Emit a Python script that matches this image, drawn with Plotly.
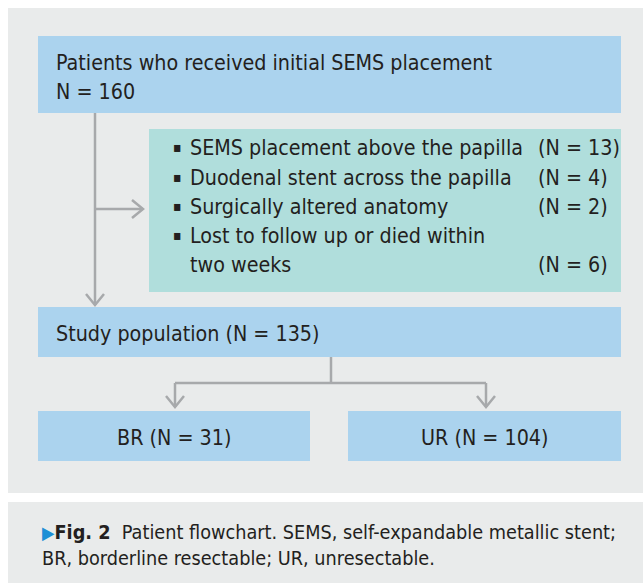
import plotly.graph_objects as go

# ---- data ----
initial_label = "Patients who received initial SEMS placement"
initial_n = 160
excluded_reasons = ["SEMS placement above the papilla",
                    "Duodenal stent across the papilla",
                    "Surgically altered anatomy",
                    "Lost to follow up or died within|two weeks"]
excluded_counts = [13, 4, 2, 6]
study_label = "Study population"
study_n = 135
group_labels = ["BR", "UR"]
group_counts = [31, 104]
caption_fig = "Fig. 2"
caption_text = "Patient flowchart. SEMS, self-expandable metallic stent;<br>BR, borderline resectable; UR, unresectable."

# ---- style ----
W, H = 643, 583
PANEL = "#e9ebeb"
BLUE = "#abd3ee"
GREEN = "#b0dedc"
ARROW = "#a7a9ab"
TXT = "#231f20"
FONT = "DejaVu Sans Condensed, Liberation Sans Narrow, sans-serif"
FS = 21.3

fig = go.Figure()
shapes = []
ann = []

def rect(x0, y0, x1, y1, color):
    shapes.append(dict(type="rect", x0=x0, y0=y0, x1=x1, y1=y1, xref="x", yref="y",
                       fillcolor=color, line=dict(width=0), layer="below"))

def line(x0, y0, x1, y1):
    shapes.append(dict(type="line", x0=x0, y0=y0, x1=x1, y1=y1, xref="x", yref="y",
                       line=dict(color=ARROW, width=2.5)))

def chevron_down(x, ytip):
    shapes.append(dict(type="path", path=f"M {x-9},{ytip-11} L {x},{ytip} L {x+9},{ytip-11}",
                       xref="x", yref="y", line=dict(color=ARROW, width=2.5)))

def chevron_right(xtip, y):
    shapes.append(dict(type="path", path=f"M {xtip-11},{y-9} L {xtip},{y} L {xtip-11},{y+9}",
                       xref="x", yref="y", line=dict(color=ARROW, width=2.5)))

def text(x, y, s, xanchor="left", size=FS, color=TXT, align="left"):
    ann.append(dict(x=x, y=y, xref="x", yref="y", text=s, showarrow=False,
                    xanchor=xanchor, yanchor="middle", align=align,
                    font=dict(family=FONT, size=size, color=color)))

# panels
rect(8, 8, W + 5, 493, PANEL)
rect(8, 502, W + 5, H + 5, PANEL)

# top box
rect(38, 36, 621, 113, BLUE)
text(54, 62, initial_label)
text(54, 91, f"N = {initial_n}")

# exclusion box
rect(149, 129, 621, 292, GREEN)
row_y = [147, 177, 206, 235, 264]
r = 0
for reason, cnt in zip(excluded_reasons, excluded_counts):
    parts = reason.split("|")
    for i, p in enumerate(parts):
        if i == 0:
            text(171, row_y[r], "\u25aa", size=14)
        text(188, row_y[r], p)
        if i == len(parts) - 1:
            text(536, row_y[r], f"(N = {cnt})")
        r += 1

# arrows from top box
line(95, 113, 95, 305)
chevron_down(95, 305)
line(95, 209, 143, 209)
chevron_right(143, 209)

# study box
rect(38, 307, 621, 357, BLUE)
text(54, 333, f"{study_label} (N = {study_n})")

# split
line(331, 357, 331, 383)
line(175, 383, 486, 383)
line(175, 383, 175, 407)
line(486, 383, 486, 407)
chevron_down(175, 407)
chevron_down(486, 407)

# group boxes
boxes = [(38, 310), (348, 621)]
for (x0, x1), lab, cnt in zip(boxes, group_labels, group_counts):
    rect(x0, 411, x1, 461, BLUE)
    text((x0 + x1) / 2, 437, f"{lab} (N = {cnt})", xanchor="center")

# caption
ann.append(dict(x=40, y=545, xref="x", yref="y", showarrow=False, xanchor="left", yanchor="middle",
                align="left",
                text=f"<span style='color:#1e8fd6;font-size:18px'>\u25b6</span><b>{caption_fig}</b>  {caption_text}",
                font=dict(family=FONT, size=19.7, color=TXT)))

fig.update_layout(
    width=W, height=H, margin=dict(l=0, r=0, t=0, b=0),
    paper_bgcolor="white", plot_bgcolor="white",
    xaxis=dict(range=[0, W], visible=False, fixedrange=True),
    yaxis=dict(range=[H, 0], visible=False, fixedrange=True),
    shapes=shapes, annotations=ann, showlegend=False,
)
fig.write_html("out.html", config={"displayModeBar": False},
               post_script="document.body.style.margin='0';document.body.style.overflow='hidden';")
